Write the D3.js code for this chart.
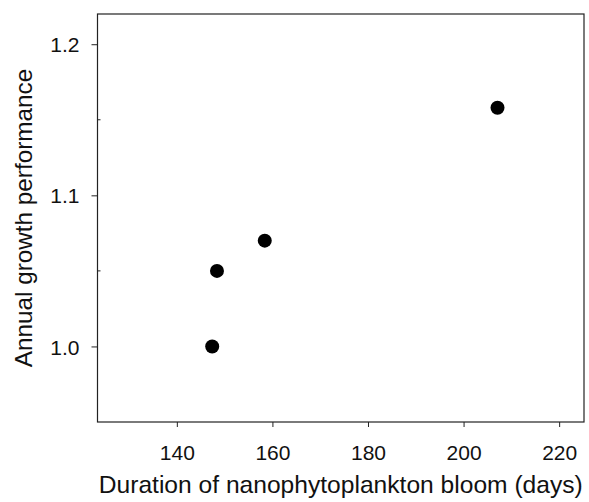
<!DOCTYPE html>
<html>
<head>
<meta charset="utf-8">
<script src="https://cdn.jsdelivr.net/npm/d3@7"></script>
<style>
    body { margin: 0; background: #fff; }
    text { font-family: "Liberation Sans", Arial, sans-serif; fill: #111; }
</style>
</head>
<body>
<div id="chart-area"></div>
<script>
// bloom duration (days) vs annual growth performance
const bloomDays = [147.4, 148.4, 158.4, 207.1];
const growth = [1.00, 1.05, 1.07, 1.158];
const xTicks = [140, 160, 180, 200, 220];
const yTicks = [1.0, 1.1, 1.2];
const yMinor = [1.05, 1.15];

const width = 589, height = 502;
const margin = {top: 14, right: 5, bottom: 80, left: 97.5};

const svg = d3.select("#chart-area").append("svg")
    .attr("width", width)
    .attr("height", height);

const x = d3.scaleLinear()
    .domain([123.4, 225.2])
    .range([margin.left, width - margin.right]);

const y = d3.scaleLinear()
    .domain([0.95, 1.22])
    .range([height - margin.bottom, margin.top]);

// frame
svg.append("rect")
    .attr("x", margin.left)
    .attr("y", margin.top)
    .attr("width", width - margin.right - margin.left)
    .attr("height", height - margin.bottom - margin.top)
    .attr("fill", "none")
    .attr("stroke", "#222")
    .attr("stroke-width", 1.2);

// axes
let xAxis = svg.append("g")
    .attr("transform", "translate(0," + (height - margin.bottom) + ")")
    .call(d3.axisBottom(x).tickValues(xTicks).tickSize(5).tickPadding(18).tickFormat(d3.format("d")));

let yAxis = svg.append("g")
    .attr("transform", "translate(" + margin.left + ",0)")
    .call(d3.axisLeft(y).tickValues(yTicks).tickSize(6).tickPadding(12).tickFormat(d3.format(".1f")));

[xAxis, yAxis].forEach(g => {
    g.select(".domain").remove();
    g.selectAll("line").attr("stroke", "#222");
    g.selectAll("text").attr("font-size", 21).attr("font-family", "Liberation Sans, Arial, sans-serif").attr("fill", "#111");
});
yAxis.selectAll("text").attr("dy", "0.36em");

// minor ticks on y
svg.append("g")
    .selectAll("line")
    .data(yMinor)
    .enter().append("line")
    .attr("x1", margin.left)
    .attr("x2", margin.left + 3)
    .attr("y1", d => y(d))
    .attr("y2", d => y(d))
    .attr("stroke", "#222");

// points
svg.append("g")
    .selectAll("circle")
    .data(bloomDays)
    .enter().append("circle")
    .attr("cx", d => x(d))
    .attr("cy", (d, i) => y(growth[i]))
    .attr("r", 7)
    .attr("fill", "#000");

// axis titles
svg.append("text")
    .attr("x", (margin.left + width - margin.right) / 2)
    .attr("y", 493)
    .attr("text-anchor", "middle")
    .attr("font-size", 24.6)
    .text("Duration of nanophytoplankton bloom (days)");

svg.append("text")
    .attr("transform", "rotate(-90)")
    .attr("x", -(margin.top + height - margin.bottom) / 2)
    .attr("y", 32)
    .attr("text-anchor", "middle")
    .attr("font-size", 24.3)
    .text("Annual growth performance");
</script>
</body>
</html>
